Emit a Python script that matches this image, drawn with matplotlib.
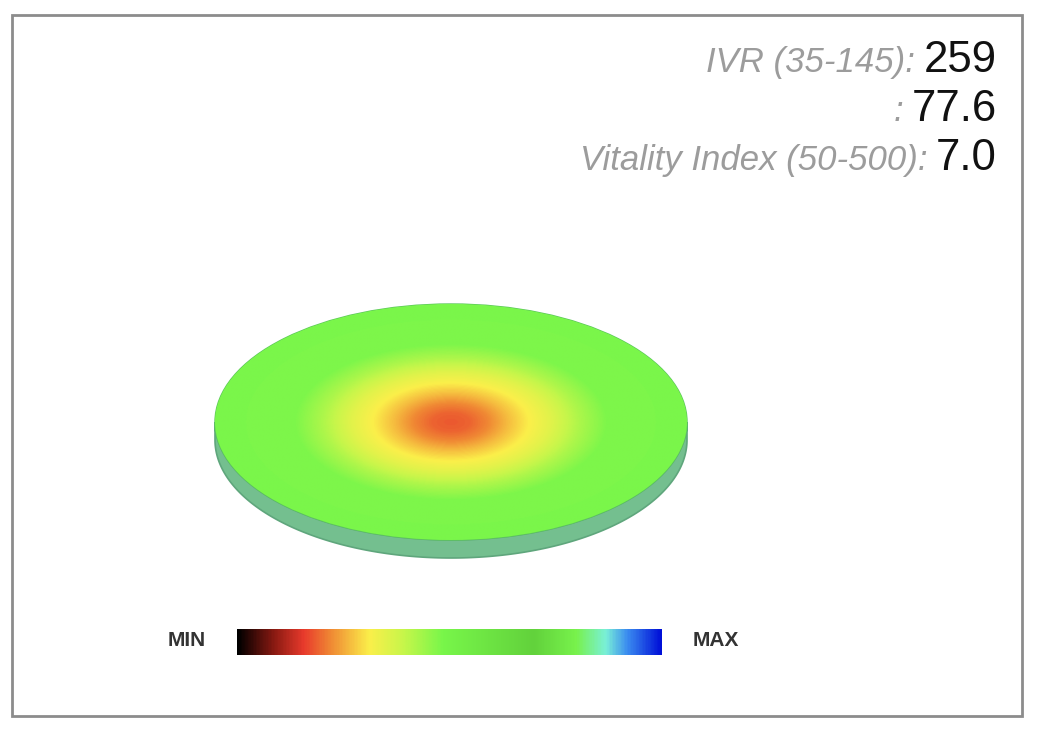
import matplotlib
matplotlib.use("Agg")
import matplotlib.pyplot as plt
import numpy as np
from matplotlib.colors import LinearSegmentedColormap
from matplotlib.patches import Ellipse, Polygon, Rectangle

# colour scale from MIN to MAX
cmap_pos = [0.0, 0.085, 0.155, 0.22, 0.31, 0.39, 0.485, 0.70, 0.80, 0.87, 0.92, 1.0]
cmap_cols = ["#000000", "#8a1a12", "#e83a2c", "#f08a34", "#fbef4a", "#c8f64a",
             "#78f64a", "#62d23c", "#78f24c", "#7af0d8", "#3c8ef0", "#0010d8"]

# radial value profile of the disc (0 = centre, 1 = rim)
radius = [0.0, 0.08, 0.16, 0.24, 0.32, 0.42, 0.54, 0.66, 1.0]
level = [0.18, 0.19, 0.22, 0.265, 0.305, 0.35, 0.42, 0.478, 0.482]

labels = ["IVR (35-145):", ":", "Vitality Index (50-500):"]
values = ["259", "77.6", "7.0"]

cmap = LinearSegmentedColormap.from_list("vit", list(zip(cmap_pos, cmap_cols)))

fig = plt.figure(figsize=(10.4, 7.32), dpi=100)
ax = fig.add_axes([0, 0, 1, 1])
ax.set_xlim(0, 1040)
ax.set_ylim(732, 0)
ax.axis("off")

# frame
ax.add_patch(Rectangle((12, 15), 1010, 701, fill=False, ec="#8c8c8c", lw=2))

# disc
cx, cy, a, b, th = 451, 422, 236, 118, 18
t = np.linspace(0, np.pi, 200)
top_edge = np.column_stack([cx + a * np.cos(t), cy + b * np.sin(t)])
bot_edge = np.column_stack([cx + a * np.cos(t[::-1]), cy + th + b * np.sin(t[::-1])])
ax.add_patch(Polygon(np.vstack([top_edge, bot_edge]), closed=True,
                     fc="#74bf8f", ec="#5fa67c", lw=1.2))

gx = np.linspace(cx - a, cx + a, 600)
gy = np.linspace(cy - b, cy + b, 300)
X, Y = np.meshgrid(gx, gy)
R = np.sqrt(((X - cx) / a) ** 2 + ((Y - cy) / b) ** 2)
field = np.interp(R, radius, level)
face = Ellipse((cx, cy), 2 * a, 2 * b, fc="none", ec="#5cc85a", lw=1.0)
ax.add_patch(face)
im = ax.imshow(field, cmap=cmap, vmin=0, vmax=1, extent=(cx - a, cx + a, cy + b, cy - b),
               origin="upper", interpolation="bilinear", zorder=2)
im.set_clip_path(face)
ax.set_xlim(0, 1040)
ax.set_ylim(732, 0)

# colour bar
bar = np.linspace(0, 1, 400)[None, :]
ax.imshow(bar, cmap=cmap, vmin=0, vmax=1, extent=(237, 662, 655, 629), aspect="auto",
          interpolation="bilinear", zorder=2)
ax.set_xlim(0, 1040)
ax.set_ylim(732, 0)
ax.text(187, 641, "MIN", ha="center", va="center", fontsize=15, fontweight="bold",
        family="Liberation Sans", color="#333333")
ax.text(716, 641, "MAX", ha="center", va="center", fontsize=15, fontweight="bold",
        family="Liberation Sans", color="#333333")

# readouts top right
fig.canvas.draw()
renderer = fig.canvas.get_renderer()
inv = ax.transData.inverted()
for lab, val, base in zip(labels, values, [72, 121, 170]):
    vt = ax.text(997, base, val, ha="right", va="baseline", fontsize=31.5,
                 family="Liberation Sans", color="#111111")
    bb = vt.get_window_extent(renderer)
    left = inv.transform((bb.x0, bb.y0))[0]
    ax.text(left - 9, base, lab, ha="right", va="baseline", fontsize=25,
            style="italic", family="Liberation Sans", color="#9c9c9c")

fig.savefig("out.png", dpi=100)
